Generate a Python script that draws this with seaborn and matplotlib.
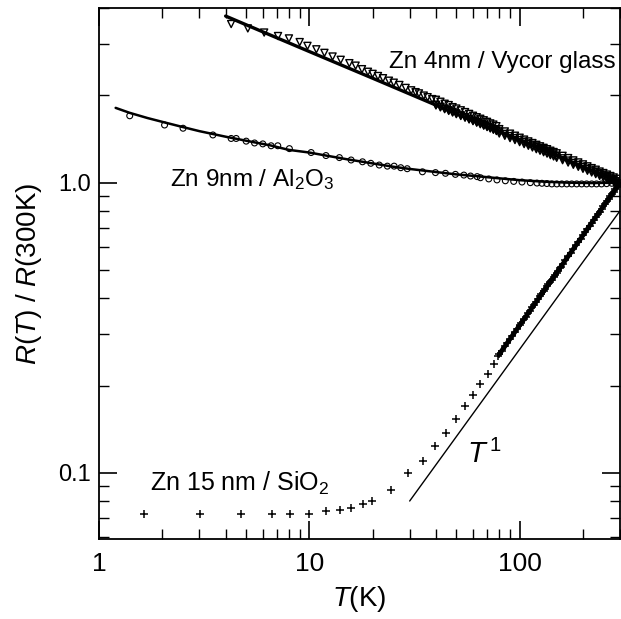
import numpy as np
import pandas as pd
import matplotlib
matplotlib.use("Agg")
import matplotlib.pyplot as plt
from matplotlib.ticker import LogLocator, NullFormatter, FixedLocator, FixedFormatter
import seaborn as sns

# Zn 4nm on Vycor glass (open down-triangles) and its fit line
vycor_T = [4.25, 5.1, 6.1, 7.1, 8.0, 9.0, 9.8, 10.8, 11.8, 12.9, 14.1, 15.5, 16.6,
           17.8, 19.0, 20.0, 21.2, 22.4, 23.9, 25.2, 26.8, 28.7, 30.5, 32.0, 33.2,
           35.0, 36.5, 38.4,
           40, 42, 44, 46, 48, 50, 52.5, 55, 57.5, 60, 62.5, 65, 67.5, 70, 72.5, 75, 77.5,
           40, 42, 44, 46, 48, 50, 52.5, 55, 57.5, 60, 62.5, 65, 67.5, 70, 72.5, 75, 77.5,
           40, 42, 44, 46, 48, 50, 52.5, 55, 57.5, 60, 62.5, 65, 67.5, 70, 72.5, 75, 77.5,
           80, 85, 90, 95, 100, 105, 110, 115, 120, 125, 130, 135, 140, 145, 150,
           160, 170, 180, 190, 200, 210, 220, 230, 240, 250, 260, 270, 280, 290,
           80, 85, 90, 95, 100, 105, 110, 115, 120, 125, 130, 135, 140, 145, 150,
           160, 170, 180, 190, 200, 210, 220, 230, 240, 250, 260, 270, 280, 290,
           80, 85, 90, 95, 100, 105, 110, 115, 120, 125, 130, 135, 140, 145, 150,
           160, 170, 180, 190, 200, 210, 220, 230, 240, 250, 260, 270, 280, 290, 300]
vycor_R = [3.52, 3.40, 3.29, 3.20, 3.14, 3.05, 2.96, 2.88, 2.80, 2.72, 2.65, 2.58, 2.53,
           2.46, 2.41, 2.37, 2.33, 2.29, 2.245, 2.21, 2.17, 2.12, 2.08, 2.05, 2.03,
           1.995, 1.97, 1.94,
           1.93, 1.90, 1.87, 1.85, 1.82, 1.80, 1.775, 1.75, 1.725, 1.70, 1.68, 1.66, 1.64,
           1.62, 1.60, 1.585, 1.565,
           1.854, 1.826, 1.800, 1.776, 1.753, 1.731, 1.706, 1.682, 1.659, 1.637, 1.617,
           1.598, 1.579, 1.562, 1.545, 1.529, 1.514,
           1.845, 1.817, 1.791, 1.767, 1.744, 1.722, 1.697, 1.674, 1.651, 1.629, 1.609,
           1.590, 1.571, 1.554, 1.537, 1.521, 1.506,
           1.529, 1.501, 1.475, 1.451, 1.428, 1.407, 1.387, 1.369, 1.350, 1.334, 1.318,
           1.304, 1.288, 1.275, 1.262,
           1.237, 1.215, 1.193, 1.174, 1.156, 1.138, 1.122, 1.108, 1.092, 1.079, 1.066,
           1.054, 1.042, 1.031,
           1.499, 1.472, 1.446, 1.423, 1.400, 1.379, 1.360, 1.342, 1.324, 1.308, 1.292,
           1.278, 1.263, 1.250, 1.237,
           1.213, 1.191, 1.170, 1.151, 1.133, 1.116, 1.100, 1.086, 1.071, 1.058, 1.045,
           1.033, 1.022, 1.011,
           1.477, 1.450, 1.424, 1.402, 1.379, 1.358, 1.340, 1.322, 1.304, 1.288, 1.273,
           1.259, 1.244, 1.231, 1.218,
           1.195, 1.173, 1.152, 1.134, 1.116, 1.099, 1.084, 1.070, 1.055, 1.042, 1.029,
           1.017, 1.007, 0.996, 1.0]
vycor_fit_T = [4.0, 6.0, 10, 20, 40, 70, 100, 150, 200, 300]
vycor_fit_R = [3.75, 3.31, 2.83, 2.29, 1.85, 1.56, 1.40, 1.24, 1.13, 1.0]

# Zn 9nm on Al2O3 (open circles) and its fit line
al_T = [1.40, 2.05, 2.51, 3.48, 4.25, 4.49, 5.01, 5.49, 6.01, 6.58, 7.08, 8.04,
        10.2, 12.0, 13.9, 15.8, 17.9, 19.6, 21.5, 23.5, 25.3, 27.2, 29.2, 34.5,
        39.8, 44.4, 49.5, 54.3, 58.4, 62.8, 65.1, 71.3, 78.0, 85.5, 93.7, 102.6,
        112.4, 120.9, 127.6, 134.7, 142.2, 150.2, 158.6, 167.5, 176.8, 186.7,
        197.1, 208.1, 220, 232, 245, 259, 274, 300]
al_R = [1.70, 1.58, 1.54, 1.46, 1.42, 1.42, 1.39, 1.37, 1.36, 1.34, 1.34, 1.31,
        1.27, 1.24, 1.22, 1.197, 1.18, 1.166, 1.15, 1.14, 1.14, 1.126, 1.117, 1.09,
        1.083, 1.077, 1.068, 1.062, 1.054, 1.049, 1.04, 1.03, 1.022, 1.015, 1.01, 1.005,
        1.0, 0.997, 0.995, 0.993, 0.99, 0.99, 0.99, 0.99, 0.99, 0.99,
        0.99, 0.99, 0.99, 0.99, 0.99, 0.992, 0.995, 1.0]
al_fit_T = [1.2, 1.4, 1.7, 2.0, 2.5, 3.0, 4.0, 5.0, 6.5, 8.0, 10, 12, 15, 20, 25,
            30, 40, 50, 65, 80, 100, 130, 170, 220, 300]
al_fit_R = [1.81, 1.74, 1.67, 1.62, 1.555, 1.505, 1.44, 1.395, 1.345, 1.297, 1.27,
            1.24, 1.205, 1.165, 1.135, 1.115, 1.088, 1.068, 1.05, 1.035, 1.02, 1.008,
            1.0, 0.997, 1.0]

# Zn 15 nm on SiO2 (crosses)
si_T = [1.63, 3.01, 4.75, 6.66, 8.10, 10.0, 12.0, 14.0, 15.8, 17.9, 19.8, 24.4,
        29.5, 34.6, 39.4, 44.8, 50.0, 55.2, 60.2, 64.8, 70.6, 75.3, 79.3,
        80, 82, 85, 87, 90, 92, 95, 97, 100, 102, 105, 107, 110, 112, 115, 117, 120,
        122, 125, 127, 130, 132, 135, 137, 140, 142, 145, 147, 150, 152, 155, 157,
        160, 165, 170, 175, 180, 185, 190, 195, 200, 205, 210, 215, 220, 225, 230,
        235, 240, 245, 250, 255, 260, 265, 270, 275, 280, 285, 290, 295, 300]
si_R = [0.0724, 0.0724, 0.0724, 0.0724, 0.0724, 0.0724, 0.0737, 0.0747, 0.0757,
        0.0784, 0.0802, 0.0876, 0.100, 0.110, 0.1235, 0.137, 0.153, 0.170, 0.186,
        0.203, 0.219, 0.2375, 0.253,
        0.256, 0.2629, 0.2728, 0.2794, 0.2894, 0.2960, 0.3060, 0.3125, 0.3225, 0.3292,
        0.3391, 0.3458, 0.3558, 0.3624, 0.3724, 0.3792, 0.3891, 0.3958, 0.4058, 0.4126,
        0.4226, 0.4293, 0.4393, 0.4461, 0.4561, 0.4628, 0.4729, 0.4796, 0.4897, 0.4964,
        0.5065, 0.5132, 0.5234, 0.5402, 0.5571, 0.5740, 0.5909, 0.6078, 0.6247, 0.6416,
        0.6586, 0.6756, 0.6925, 0.7095, 0.7265, 0.7435, 0.7606, 0.7776, 0.7946, 0.8117,
        0.8288, 0.8459, 0.8630, 0.8800, 0.8971, 0.9143, 0.9314, 0.9486, 0.9657, 0.9828,
        1.0]

# Guide line proportional to T
guide_T = [30, 300]
guide_R = [0.08, 0.80]

x_ticks = [1, 10, 100]
x_tick_labels = ["1", "10", "100"]
y_ticks = [0.1, 1.0]
y_tick_labels = ["0.1", "1.0"]

sns.set_style("ticks")
plt.rcParams["font.family"] = ["Liberation Sans", "DejaVu Sans"]
plt.rcParams["mathtext.fontset"] = "custom"
plt.rcParams["mathtext.rm"] = "Liberation Sans"
plt.rcParams["mathtext.it"] = "Liberation Sans:italic"
plt.rcParams["mathtext.bf"] = "Liberation Sans:bold"
for key in ["text.color", "axes.labelcolor", "xtick.color", "ytick.color",
            "axes.edgecolor"]:
    plt.rcParams[key] = "black"

fig = plt.figure(figsize=(6.21, 6.19), dpi=100)
ax = fig.add_axes([0.1594, 0.1286, 0.8390, 0.8586])
ax.set_xscale("log")
ax.set_yscale("log")

vycor = pd.DataFrame({"T": vycor_T, "R": vycor_R})
vycor_fit = pd.DataFrame({"T": vycor_fit_T, "R": vycor_fit_R})
al = pd.DataFrame({"T": al_T, "R": al_R})
al_fit = pd.DataFrame({"T": al_fit_T, "R": al_fit_R})
si = pd.DataFrame({"T": si_T, "R": si_R})
guide = pd.DataFrame({"T": guide_T, "R": guide_R})

sns.lineplot(data=vycor_fit, x="T", y="R", color="black", linewidth=2.4, ax=ax)
sns.lineplot(data=al_fit, x="T", y="R", color="black", linewidth=1.8, ax=ax)
sns.lineplot(data=guide, x="T", y="R", color="black", linewidth=1.0, ax=ax)
# densely sampled high-temperature part of the SiO2 run merges into a solid trace
sns.lineplot(data=si[si["T"] >= 80], x="T", y="R", color="black", linewidth=3.4, ax=ax)

sns.scatterplot(data=vycor, x="T", y="R", marker="v", s=26, facecolor="none",
                edgecolor="black", linewidth=1.0, ax=ax, zorder=3)
sns.scatterplot(data=al, x="T", y="R", marker="o", s=18, facecolor="none",
                edgecolor="black", linewidth=0.8, ax=ax, zorder=3)
sns.scatterplot(data=si, x="T", y="R", marker="+", s=30, color="black",
                linewidth=1.1, ax=ax, zorder=3)

ax.set_xlim(1, 300)
ax.set_ylim(0.059, 4.0)

ax.xaxis.set_major_locator(FixedLocator(x_ticks))
ax.xaxis.set_major_formatter(FixedFormatter(x_tick_labels))
ax.yaxis.set_major_locator(FixedLocator(y_ticks))
ax.yaxis.set_major_formatter(FixedFormatter(y_tick_labels))
ax.xaxis.set_minor_locator(LogLocator(base=10, subs=np.arange(2, 10)))
ax.yaxis.set_minor_locator(LogLocator(base=10, subs=np.arange(2, 10)))
ax.xaxis.set_minor_formatter(NullFormatter())
ax.yaxis.set_minor_formatter(NullFormatter())

ax.tick_params(which="both", direction="in", top=True, right=True, color="black")
ax.tick_params(which="major", length=13, width=1.2)
ax.tick_params(which="minor", length=7, width=1.0)
ax.tick_params(axis="x", which="major", labelsize=19, pad=9)
ax.tick_params(axis="y", which="major", labelsize=17, pad=6)
for sp in ax.spines.values():
    sp.set_linewidth(1.3)
    sp.set_color("black")

ax.set_xlabel(r"$T$(K)", fontsize=20, labelpad=6)
ax.set_ylabel(r"$R$($T$) / $R$(300K)", fontsize=20, labelpad=10)

ax.text(23.9, 2.60, "Zn 4nm / Vycor glass", fontsize=17.5, ha="left", va="center")
ax.text(2.18, 1.026, r"Zn 9nm / Al$_\mathregular{2}$O$_\mathregular{3}$",
        fontsize=17.5, ha="left", va="center")
ax.text(1.745, 0.0923, r"Zn 15 nm / SiO$_\mathregular{2}$", fontsize=18,
        ha="left", va="center")
ax.text(56, 0.1156, r"$T^{\,1}$", fontsize=21, ha="left", va="center")

fig.savefig("out.png", dpi=100)
